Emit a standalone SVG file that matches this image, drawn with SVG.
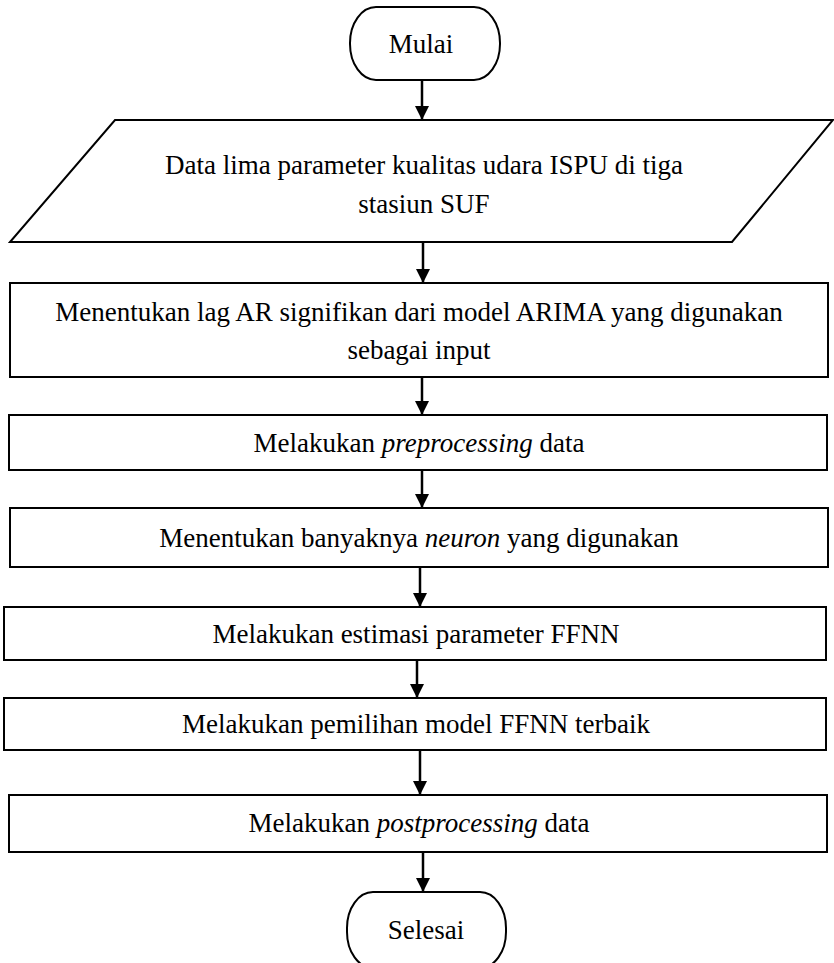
<svg xmlns="http://www.w3.org/2000/svg" width="834" height="963" viewBox="0 0 834 963">
  <style>
    .shape { fill: #ffffff; stroke: #000000; stroke-width: 2; }
    .label { font-family: "Liberation Serif", "Times New Roman", serif; font-size: 27px; fill: #000000; text-anchor: middle; }
    .flow { stroke: #000000; stroke-width: 2.5; fill: none; marker-end: url(#arrow); }
  </style>
  <defs>
    <marker id="arrow" markerWidth="14" markerHeight="14" viewBox="0 0 14 14" refX="14" refY="7" orient="auto" markerUnits="userSpaceOnUse">
      <path d="M0,0 L14,7 L0,14 Z" fill="#000000"/>
    </marker>
  </defs>

  <rect width="834" height="963" fill="#ffffff"/>

  <!-- start -->
  <g id="start">
    <rect class="shape" x="350" y="7" width="150" height="73" rx="26" ry="36"/>
    <text class="label" x="421" y="53">Mulai</text>
  </g>

  <!-- input data -->
  <g id="input-data">
    <polygon class="shape" points="115,120 833,120 732,242 10,242"/>
    <text class="label" x="424" y="174">Data lima parameter kualitas udara ISPU di tiga</text>
    <text class="label" x="424" y="213">stasiun SUF</text>
  </g>

  <g id="lag-ar">
    <rect class="shape" x="10" y="283" width="818" height="94"/>
    <text class="label" x="419" y="321">Menentukan lag AR signifikan dari model ARIMA yang digunakan</text>
    <text class="label" x="419" y="359">sebagai input</text>
  </g>

  <g id="preprocessing">
    <rect class="shape" x="9" y="415" width="818" height="55"/>
    <text class="label" x="419" y="452">Melakukan <tspan font-style="italic">preprocessing</tspan> data</text>
  </g>

  <g id="neuron">
    <rect class="shape" x="10" y="508" width="818" height="59"/>
    <text class="label" x="419" y="547">Menentukan banyaknya <tspan font-style="italic">neuron</tspan> yang digunakan</text>
  </g>

  <g id="estimasi">
    <rect class="shape" x="4" y="607" width="822" height="53"/>
    <text class="label" x="416" y="643">Melakukan estimasi parameter FFNN</text>
  </g>

  <g id="pemilihan">
    <rect class="shape" x="4" y="698" width="822" height="52"/>
    <text class="label" x="416" y="733">Melakukan pemilihan model FFNN terbaik</text>
  </g>

  <g id="postprocessing">
    <rect class="shape" x="9" y="795" width="818" height="57"/>
    <text class="label" x="419" y="832">Melakukan <tspan font-style="italic">postprocessing</tspan> data</text>
  </g>

  <!-- end -->
  <g id="end">
    <rect class="shape" x="347" y="892" width="159" height="76" rx="26" ry="36"/>
    <text class="label" x="426" y="939">Selesai</text>
  </g>

  <!-- connectors -->
  <g id="connectors">
    <line class="flow" x1="422" y1="80" x2="422" y2="120"/>
    <line class="flow" x1="423" y1="242" x2="423" y2="283"/>
    <line class="flow" x1="422" y1="377" x2="422" y2="415"/>
    <line class="flow" x1="422" y1="470" x2="422" y2="508"/>
    <line class="flow" x1="420" y1="567" x2="420" y2="607"/>
    <line class="flow" x1="417" y1="660" x2="417" y2="698"/>
    <line class="flow" x1="420" y1="750" x2="420" y2="795"/>
    <line class="flow" x1="423" y1="852" x2="423" y2="892"/>
  </g>
</svg>
